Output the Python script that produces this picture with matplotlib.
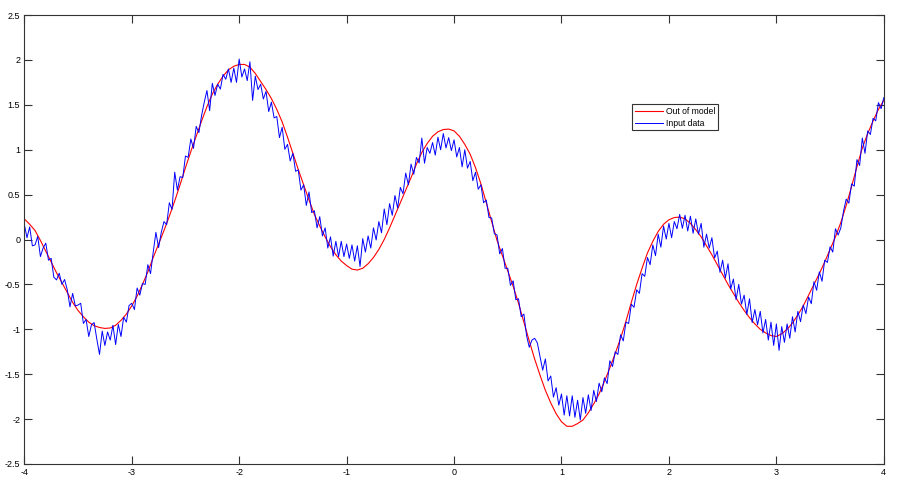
import numpy as np
import matplotlib
matplotlib.use("Agg")
import matplotlib.pyplot as plt

# model output at x = -4.00, -3.95, ..., 4.00
model_x = np.round(np.linspace(-4.0, 4.0, 161), 3)
model_y = [
    0.23, 0.17, 0.10, -0.01, -0.13, -0.25, -0.37, -0.48, -0.59, -0.70,
    -0.79, -0.86, -0.92, -0.96, -0.98, -0.99, -0.985, -0.955, -0.90, -0.83,
    -0.74, -0.63, -0.50, -0.36, -0.20, -0.05, 0.10, 0.26, 0.43, 0.61,
    0.80, 0.98, 1.15, 1.32, 1.48, 1.62, 1.73, 1.82, 1.89, 1.93,
    1.95, 1.95, 1.92, 1.85, 1.76, 1.67, 1.57, 1.45, 1.31, 1.14,
    0.96, 0.78, 0.61, 0.44, 0.28, 0.15, 0.03, -0.08, -0.17, -0.24,
    -0.29, -0.33, -0.34, -0.32, -0.27, -0.20, -0.11, 0.00, 0.13, 0.27,
    0.41, 0.55, 0.69, 0.84, 0.97, 1.07, 1.15, 1.20, 1.225, 1.23,
    1.21, 1.15, 1.06, 0.95, 0.80, 0.62, 0.41, 0.20, -0.01, -0.18,
    -0.35, -0.52, -0.71, -0.92, -1.13, -1.33, -1.51, -1.68, -1.82, -1.94,
    -2.03, -2.08, -2.08, -2.05, -2.01, -1.93, -1.83, -1.72, -1.58, -1.43,
    -1.27, -1.10, -0.91, -0.70, -0.50, -0.32, -0.15, -0.02, 0.09, 0.17,
    0.22, 0.245, 0.25, 0.23, 0.18, 0.11, 0.03, -0.07, -0.17, -0.28,
    -0.39, -0.50, -0.60, -0.70, -0.79, -0.87, -0.94, -1.00, -1.04, -1.07,
    -1.08, -1.05, -1.00, -0.93, -0.84, -0.74, -0.62, -0.50, -0.38, -0.25,
    -0.11, 0.03, 0.19, 0.38, 0.59, 0.81, 1.02, 1.18, 1.32, 1.45,
    1.55,
]

# noisy input data, x = -4.0 .. 4.0 in steps of 0.025
data_x = np.round(np.linspace(-4.0, 4.0, 321), 4)
data_y = [
    0.17, 0.02, 0.14, -0.07, -0.06, 0.035, -0.19, -0.095,
    -0.04, -0.23, -0.21, -0.42, -0.45, -0.375, -0.50, -0.445,
    -0.56, -0.75, -0.60, -0.74, -0.73, -0.71, -0.935, -0.89,
    -1.08, -0.95, -0.925, -1.11, -1.28, -1.02, -1.18, -1.03,
    -1.12, -0.955, -1.17, -0.945, -1.08, -0.865, -0.92, -0.735,
    -0.71, -0.78, -0.54, -0.62, -0.49, -0.50, -0.28, -0.38,
    -0.14, 0.08, -0.09, 0.08, 0.20, 0.165, 0.41, 0.335,
    0.75, 0.55, 0.70, 0.69, 0.93, 0.915, 1.12, 1.015,
    1.26, 1.19, 1.38, 1.53, 1.66, 1.435, 1.74, 1.605,
    1.73, 1.675, 1.84, 1.785, 1.90, 1.75, 1.91, 1.75,
    2.01, 1.81, 1.90, 1.77, 1.98, 1.55, 1.82, 1.67,
    1.73, 1.565, 1.65, 1.425, 1.53, 1.355, 1.37, 1.135,
    1.25, 1.005, 1.06, 0.875, 0.96, 0.76, 0.775, 0.55,
    0.61, 0.38, 0.53, 0.30, 0.32, 0.13, 0.255, 0.04,
    0.13, -0.095, 0.03, -0.185, -0.02, -0.19, -0.02, -0.19,
    -0.05, -0.21, -0.06, -0.24, -0.07, -0.30, 0.01, -0.14,
    0.04, -0.095, 0.13, -0.005, 0.20, 0.075, 0.34, 0.165,
    0.40, 0.27, 0.49, 0.35, 0.58, 0.51, 0.74, 0.61,
    0.84, 0.7275, 0.915, 0.8525, 1.13, 0.85, 1.025, 0.96,
    1.08, 0.94, 1.14, 1.00, 1.18, 1.02, 1.135, 0.99,
    1.11, 0.92, 1.025, 0.81, 1.00, 0.795, 0.87, 0.655,
    0.75, 0.56, 0.61, 0.41, 0.44, 0.245, 0.24, 0.065,
    0.05, -0.16, -0.10, -0.32, -0.32, -0.51, -0.46, -0.67,
    -0.66, -0.86, -0.83, -1.07, -1.20, -1.12, -1.10, -1.15,
    -1.30, -1.455, -1.33, -1.575, -1.52, -1.755, -1.65, -1.845,
    -1.72, -1.955, -1.74, -1.965, -1.74, -1.98, -1.79, -2.01,
    -1.76, -1.935, -1.73, -1.905, -1.68, -1.805, -1.60, -1.695,
    -1.54, -1.605, -1.35, -1.415, -1.25, -1.28, -1.06, -1.13,
    -0.92, -0.935, -0.72, -0.755, -0.56, -0.60, -0.38, -0.41,
    -0.20, -0.28, -0.06, -0.18, 0.06, -0.085, 0.15, 0.005,
    0.18, 0.02, 0.20, 0.12, 0.28, 0.125, 0.27, 0.095,
    0.26, 0.07, 0.23, 0.06, 0.18, -0.085, 0.06, -0.095,
    0.02, -0.205, -0.13, -0.365, -0.23, -0.43, -0.27, -0.55,
    -0.44, -0.67, -0.50, -0.72, -0.62, -0.835, -0.66, -0.925,
    -0.78, -0.95, -0.80, -1.04, -0.89, -1.12, -0.92, -1.18,
    -0.94, -1.235, -0.97, -1.145, -0.94, -1.10, -0.86, -1.03,
    -0.80, -0.915, -0.73, -0.825, -0.64, -0.715, -0.47, -0.565,
    -0.36, -0.465, -0.23, -0.255, -0.08, -0.14, 0.12, 0.05,
    0.13, 0.315, 0.45, 0.405, 0.62, 0.595, 0.89, 0.825,
    1.13, 0.96, 1.21, 1.17, 1.35, 1.3225, 1.525, 1.4575,
    1.58,
]

x_ticks = [-4, -3, -2, -1, 0, 1, 2, 3, 4]
x_labels = ["-4", "-3", "-2", "-1", "0", "1", "2", "3", "4"]
y_ticks = [-2.5, -2, -1.5, -1, -0.5, 0, 0.5, 1, 1.5, 2, 2.5]
y_labels = ["-2.5", "-2", "-1.5", "-1", "-0.5", "0", "0.5", "1", "1.5", "2", "2.5"]

plt.rcParams["font.family"] = ["Liberation Sans", "DejaVu Sans"]
plt.rcParams["axes.unicode_minus"] = False

fig = plt.figure(figsize=(9, 4.86), dpi=100)
ax = fig.add_axes([0.027, 0.0453, 0.955, 0.9237])

ax.plot(model_x, model_y, color="#ff0000", linewidth=0.8, label="Out of model")
ax.plot(data_x, data_y, color="#0000ff", linewidth=0.7, label="Input data")

ax.set_xlim(-4, 4)
ax.set_ylim(-2.5, 2.5)
ax.set_xticks(x_ticks)
ax.set_xticklabels(x_labels)
ax.set_yticks(y_ticks)
ax.set_yticklabels(y_labels)
ax.tick_params(direction="in", length=6, width=0.8, colors="#333333",
               labelsize=6.5, labelcolor="black", top=True, right=True, pad=3)
for sp in ax.spines.values():
    sp.set_color("#333333")
    sp.set_linewidth(0.8)

leg = ax.legend(loc="upper left", bbox_to_anchor=(0.707, 0.802), borderaxespad=0,
                fontsize=6.2, fancybox=False, edgecolor="#333333", framealpha=1,
                handlelength=3.3, handletextpad=0.3, labelspacing=0.35, borderpad=0.3)
leg.get_frame().set_linewidth(0.8)

fig.savefig("out.png", dpi=100)
